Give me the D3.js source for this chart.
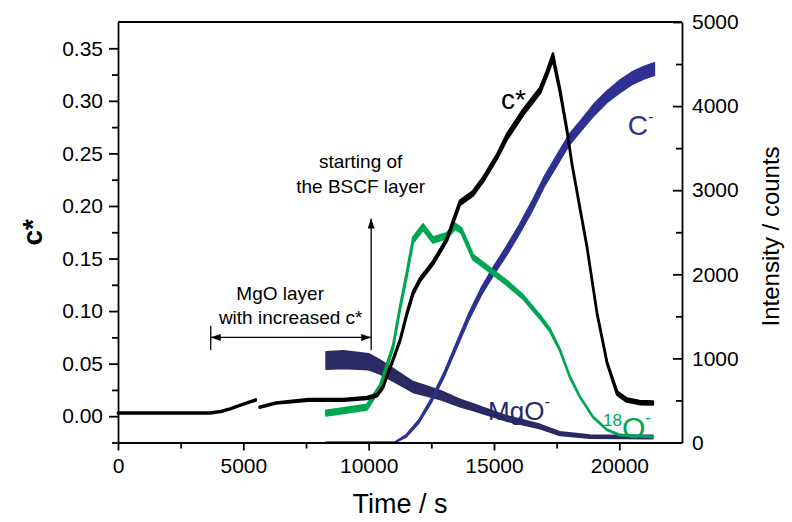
<!DOCTYPE html>
<html>
<head>
<meta charset="utf-8">
<script src="https://cdn.jsdelivr.net/npm/d3@7"></script>
<style>
  body { margin: 0; background: #fff; }
  text { font-family: "Liberation Sans", Arial, sans-serif; }
</style>
</head>
<body>
<div id="chart"></div>
<script>
// c* (left axis), two pieces with a small gap near 5500 s
var cStarTime1 = [0, 1000, 2000, 3000, 3670, 4100, 4470, 5000, 5500];
var cStarVal1  = [0.003, 0.003, 0.003, 0.003, 0.003, 0.0045, 0.007, 0.0115, 0.0155];
var cStarSpread1 = [0.0005, 0.0005, 0.0005, 0.0005, 0.0005, 0.0005, 0.0005, 0.0005, 0.0005];
var cStarTime2 = [5650, 6300, 7600, 9000, 9930, 10330, 10570, 10770, 10970, 11250, 11530, 11770, 12050,
                  12570, 13120, 13640, 14160, 14560, 15120, 15520, 16160, 16840, 17110, 17350, 17630,
                  17910, 18110, 18710, 19110, 19510, 19910, 20300, 20800, 21340];
var cStarVal2  = [0.0085, 0.0125, 0.0155, 0.0155, 0.0173, 0.020, 0.0275, 0.041, 0.0535, 0.072, 0.098, 0.117, 0.130,
                  0.146, 0.168, 0.203, 0.212, 0.225, 0.247, 0.266, 0.289, 0.310, 0.326, 0.342, 0.310,
                  0.272, 0.240, 0.161, 0.098, 0.051, 0.022, 0.0154, 0.013, 0.0126];
var cStarSpread2 = [0.0005, 0.0005, 0.0008, 0.0008, 0.001, 0.001, 0.001, 0.001, 0.001, 0.001, 0.0015, 0.0015, 0.0015,
                    0.0015, 0.0015, 0.002, 0.002, 0.002, 0.002, 0.0025, 0.0025, 0.0025, 0.0025, 0.003, 0.002,
                    0.0015, 0.001, 0.001, 0.001, 0.001, 0.0015, 0.0015, 0.0015, 0.0015];

// C- intensity (right axis): middle of the noisy band and its half spread
var cTime   = [8300, 10000, 11050, 11500, 12000, 12500, 13000, 13500, 14000, 14500, 15000, 15500, 16000,
               16500, 17000, 17500, 18000, 18500, 19000, 19500, 20000, 20500, 21000, 21400];
var cMid    = [0, 0, 0, 80, 250, 500, 800, 1150, 1500, 1800, 2050, 2280, 2530,
               2800, 3100, 3350, 3600, 3780, 3960, 4110, 4230, 4330, 4400, 4440];
var cSpread = [5, 5, 8, 15, 20, 25, 30, 35, 40, 45, 50, 55, 55,
               60, 60, 65, 65, 65, 70, 70, 75, 75, 75, 75];

// MgO- intensity (right axis)
var mgoTime   = [8300, 9000, 10000, 10450, 11000, 11770, 12850, 13640, 14160, 15520, 16840, 17630, 18830, 21340];
var mgoMid    = [975, 985, 960, 898, 800, 660, 565, 470, 420, 285, 190, 105, 70, 65];
var mgoSpread = [105, 105, 95, 85, 75, 65, 55, 45, 40, 32, 26, 22, 20, 20];

// 18O- intensity (right axis)
var oTime = [8300, 9000, 9930, 10450, 10970, 11250, 11530, 11770, 12170, 12570, 13120, 13450, 13700,
             14160, 14840, 15520, 16160, 16840, 17230, 17630, 18030, 18430, 18950, 19510, 20030, 21340];
var oVal  = [350, 380, 420, 660, 1135, 1600, 2015, 2407, 2562, 2407, 2460, 2570, 2520,
             2205, 2051, 1896, 1730, 1492, 1338, 1100, 779, 541, 303, 149, 89, 65];
var oSpread = [30, 30, 30, 25, 25, 28, 30, 32, 34, 32, 32, 32, 30,
               28, 25, 25, 22, 20, 15, 10, 8, 6, 5, 4, 4, 4];

var xTicks = [0, 5000, 10000, 15000, 20000];
var xMinor = [2500, 7500, 12500, 17500];
var yLeftTicks = [0, 0.05, 0.10, 0.15, 0.20, 0.25, 0.30, 0.35];
var yLeftMinor = [-0.025, 0.025, 0.075, 0.125, 0.175, 0.225, 0.275, 0.325];
var yRightTicks = [0, 1000, 2000, 3000, 4000, 5000];
var yRightMinor = [500, 1500, 2500, 3500, 4500];

var width = 792, height = 522;
var margin = {top: 22, right: 110, bottom: 79.5, left: 118};

var svg = d3.select("#chart").append("svg")
  .attr("width", width).attr("height", height)
  .style("background", "#fff");

var x = d3.scaleLinear().domain([0, 22500]).range([margin.left, width - margin.right]);
var yL = d3.scaleLinear().domain([-0.025, 0.375]).range([height - margin.bottom, margin.top]);
var yR = d3.scaleLinear().domain([0, 5000]).range([height - margin.bottom, margin.top]);

var colC = "#2e3192", colMgO = "#2b2a64", colO = "#00a651";

function band(scale) {
  return d3.area()
    .x(function(d){ return x(d.t); })
    .y0(function(d){ return scale(Math.max(scale.domain()[0] < 0 ? -1 : 0, d.m - d.s)); })
    .y1(function(d){ return scale(d.m + d.s); });
}
function zip(t, m, s) {
  return t.map(function(v, i){ return {t: v, m: m[i], s: s[i]}; });
}
function drawBand(data, scale, col, sw) {
  svg.append("path").datum(data)
    .attr("d", band(scale)).attr("fill", col).attr("stroke", col)
    .attr("stroke-width", sw).attr("stroke-linejoin", "round");
}

drawBand(zip(mgoTime, mgoMid, mgoSpread), yR, colMgO, 1.5);
drawBand(zip(cTime, cMid, cSpread), yR, colC, 1.5);
drawBand(zip(oTime, oVal, oSpread), yR, colO, 2.2);
drawBand(zip(cStarTime1, cStarVal1, cStarSpread1), yL, "#000", 2.5);
drawBand(zip(cStarTime2, cStarVal2, cStarSpread2), yL, "#000", 2.5);

// axes
var fontTick = 21;
svg.append("g").attr("transform", "translate(0," + yL.range()[0] + ")")
  .call(d3.axisBottom(x).tickValues(xTicks).tickFormat(d3.format("d")).tickSize(8).tickPadding(8).tickSizeOuter(0));
svg.append("g").attr("transform", "translate(0," + yL.range()[0] + ")")
  .call(d3.axisBottom(x).tickValues(xMinor).tickFormat("").tickSize(6).tickSizeOuter(0))
  .select(".domain").remove();

svg.append("g").attr("transform", "translate(" + margin.left + ",0)")
  .call(d3.axisLeft(yL).tickValues(yLeftTicks).tickFormat(d3.format(".2f")).tickSize(9).tickPadding(6).tickSizeOuter(0));
svg.append("g").attr("transform", "translate(" + margin.left + ",0)")
  .call(d3.axisLeft(yL).tickValues(yLeftMinor).tickFormat("").tickSize(6).tickSizeOuter(0))
  .select(".domain").remove();

svg.append("g").attr("transform", "translate(" + (width - margin.right) + ",0)")
  .call(d3.axisRight(yR).tickValues(yRightTicks).tickFormat(d3.format("d")).tickSize(-9).tickPadding(10).tickSizeOuter(0));
svg.append("g").attr("transform", "translate(" + (width - margin.right) + ",0)")
  .call(d3.axisRight(yR).tickValues(yRightMinor).tickFormat("").tickSize(-6).tickSizeOuter(0))
  .select(".domain").remove();

svg.append("line")
  .attr("x1", margin.left).attr("x2", width - margin.right)
  .attr("y1", margin.top).attr("y2", margin.top)
  .attr("stroke", "#000").attr("stroke-width", 1.8);

svg.selectAll(".domain, .tick line").attr("stroke", "#000").attr("stroke-width", 1.8);
svg.selectAll(".tick text").attr("font-size", fontTick).attr("fill", "#000")
  .style("font-family", "'Liberation Sans', Arial, sans-serif");

// axis titles
svg.append("text").attr("x", x(11250)).attr("y", 513).attr("text-anchor", "middle")
  .attr("font-size", 27).text("Time / s");
svg.append("text").attr("transform", "translate(42," + yL(0.175) + ") rotate(-90)")
  .attr("text-anchor", "middle").attr("font-size", 28).attr("font-weight", "bold").text("c*");
svg.append("text").attr("transform", "translate(779," + yR(2450) + ") rotate(-90)")
  .attr("text-anchor", "middle").attr("font-size", 24).text("Intensity / counts");

// series labels
svg.append("text").attr("x", x(15780)).attr("y", yL(0.292)).attr("text-anchor", "middle")
  .attr("font-size", 28).attr("fill", "#000").text("c*");
var cl = svg.append("text").attr("x", x(20850)).attr("y", yR(3660)).attr("text-anchor", "middle")
  .attr("font-size", 28).attr("fill", colC).text("C");
cl.append("tspan").attr("font-size", 17).attr("dy", -13).text("-");
var ml = svg.append("text").attr("x", x(16000)).attr("y", yR(270)).attr("text-anchor", "middle")
  .attr("font-size", 26).attr("fill", colMgO).text("MgO");
ml.append("tspan").attr("font-size", 17).attr("dy", -13).text("-");
var ol = svg.append("text").attr("x", x(19350)).attr("y", yR(55)).attr("text-anchor", "start")
  .attr("font-size", 30).attr("fill", colO);
ol.append("tspan").attr("font-size", 17).attr("dy", -12).text("18");
ol.append("tspan").attr("dy", 12).text("O");
ol.append("tspan").attr("font-size", 17).attr("dy", -15).text("-");

// annotations
var defs = svg.append("defs");
defs.append("marker").attr("id", "ah").attr("viewBox", "0 0 10 10")
  .attr("refX", 10).attr("refY", 5).attr("markerWidth", 10).attr("markerHeight", 10)
  .attr("markerUnits", "userSpaceOnUse").attr("orient", "auto-start-reverse")
  .append("path").attr("d", "M0,1.5 L10,5 L0,8.5 Z").attr("fill", "#000");

svg.append("line")
  .attr("x1", x(10100)).attr("x2", x(10100))
  .attr("y1", yL(0.063)).attr("y2", yL(0.188))
  .attr("stroke", "#000").attr("stroke-width", 1.3).attr("marker-end", "url(#ah)");
svg.append("line")
  .attr("x1", x(3700)).attr("x2", x(10100))
  .attr("y1", yL(0.075)).attr("y2", yL(0.075))
  .attr("stroke", "#000").attr("stroke-width", 1.3)
  .attr("marker-start", "url(#ah)").attr("marker-end", "url(#ah)");
svg.append("line")
  .attr("x1", x(3700)).attr("x2", x(3700))
  .attr("y1", yL(0.063)).attr("y2", yL(0.086))
  .attr("stroke", "#000").attr("stroke-width", 1.3);

svg.append("text").attr("x", x(9680)).attr("y", yL(0.236)).attr("text-anchor", "middle")
  .attr("font-size", 19).text("starting of");
svg.append("text").attr("x", x(9680)).attr("y", yL(0.212)).attr("text-anchor", "middle")
  .attr("font-size", 19).text("the BSCF layer");
svg.append("text").attr("x", x(6470)).attr("y", yL(0.111)).attr("text-anchor", "middle")
  .attr("font-size", 19).text("MgO layer");
svg.append("text").attr("x", x(6890)).attr("y", yL(0.088)).attr("text-anchor", "middle")
  .attr("font-size", 19).text("with increased c*");
</script>
</body>
</html>
